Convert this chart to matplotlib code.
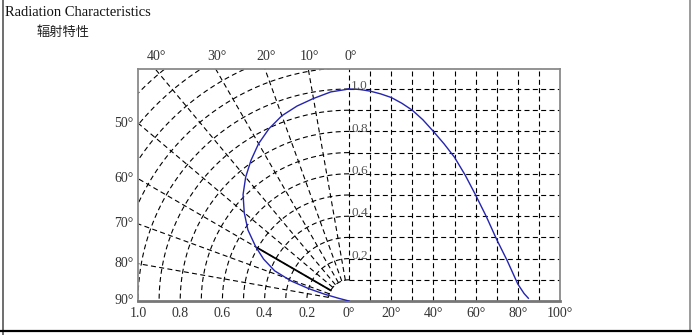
import numpy as np
from matplotlib import pyplot as plt
from matplotlib.lines import Line2D

# polar half (left): angle in degrees, relative intensity
polar_angle = [0, 5, 10, 15, 20, 25, 30, 35, 40, 45, 50, 55, 60, 64, 68, 71, 73, 74.5, 75.5, 76]
polar_r = [1.0, 0.99, 0.97, 0.952, 0.93, 0.897, 0.857, 0.81, 0.762, 0.71, 0.648, 0.585,
           0.51, 0.45, 0.38, 0.29, 0.2, 0.12, 0.05, 0.0]

# cartesian half (right): angle in degrees, relative intensity
cart_angle = [0, 5, 10, 15, 20, 25, 30, 35, 40, 45, 50, 55, 60, 65, 70, 75, 80, 83, 85]
cart_value = [1.0, 0.998, 0.99, 0.977, 0.96, 0.933, 0.90, 0.855, 0.80, 0.742, 0.678, 0.595,
              0.50, 0.40, 0.29, 0.19, 0.08, 0.035, 0.013]

half_angle = 60  # 50% intensity angle

bottom_ticks = [-1.0, -0.8, -0.6, -0.4, -0.2, 0.0, 0.2, 0.4, 0.6, 0.8, 1.0]
bottom_labels = ['1.0', '0.8', '0.6', '0.4', '0.2', '0°', '20°', '40°', '60°', '80°', '100°']
top_angles = [40, 30, 20, 10, 0]
left_angles = [50, 60, 70, 80, 90]
right_labels = [0.2, 0.4, 0.6, 0.8, 1.0]

serif = ['Liberation Serif', 'DejaVu Serif']
W, H = 692, 335
fig = plt.figure(figsize=(W / 100, H / 100), dpi=100)

y_top = 232 / 212.0
ax = fig.add_axes([138 / W, (H - 301) / H, 422 / W, 232 / H])
ax.set_xlim(-1, 1)
ax.set_ylim(0, y_top)

grid_kw = dict(color='black', lw=0.8, linestyle=(0, (4.5, 3)), zorder=1)

# polar grid: arcs every 0.1
th = np.radians(np.linspace(0, 90, 300))
for r in np.arange(0.1, 1.45, 0.1):
    ax.plot(-r * np.sin(th), r * np.cos(th), **grid_kw)
# radial lines every 10 degrees, starting at r = 0.1
for a in range(0, 90, 10):
    t = np.radians(a)
    ax.plot([-0.1 * np.sin(t), -2 * np.sin(t)], [0.1 * np.cos(t), 2 * np.cos(t)], **grid_kw)

# cartesian grid on the right
for v in np.arange(0.1, 1.05, 0.1):
    ax.plot([0, 1], [v, v], **grid_kw)
for a in range(10, 100, 10):
    ax.plot([a / 100, a / 100], [0, y_top], **grid_kw)

# half-intensity line
t = np.radians(half_angle)
ax.plot([-0.1 * np.sin(t), -0.5 * np.sin(t)], [0.1 * np.cos(t), 0.5 * np.cos(t)],
        color='black', lw=1.3, zorder=2)

# curves
pa = np.radians(polar_angle)
pr = np.array(polar_r)
ax.plot(-pr * np.sin(pa), pr * np.cos(pa), color='#2424b0', lw=1.0, zorder=3)
ax.plot(np.array(cart_angle) / 100, cart_value, color='#2424b0', lw=1.0, zorder=3)

for s in ax.spines.values():
    s.set_color('#8a8a8a')
    s.set_linewidth(1.3)
ax.spines['bottom'].set_color('#777777')
ax.spines['bottom'].set_linewidth(2)

ax.set_xticks(bottom_ticks)
ax.set_xticklabels(bottom_labels, fontsize=10, family=serif, color='#333333')
ax.tick_params(axis='x', length=0, pad=4.5)
ax.set_yticks([])

txt_kw = dict(fontsize=10, family=serif, color='#333333')
for a in top_angles:
    x = -y_top * np.tan(np.radians(a))
    ax.annotate(f'{a}°', (x, y_top), xytext=(1, 4), textcoords='offset points',
                ha='center', va='bottom', annotation_clip=False, **txt_kw)
for a in left_angles:
    y = 1 / np.tan(np.radians(a)) if a < 90 else 0.0
    ax.annotate(f'{a}°', (-1, y), xytext=(-3, 0), textcoords='offset points',
                ha='right', va='center', annotation_clip=False, **txt_kw)
for v in right_labels:
    ax.annotate(f'{v:.1f}', (0, v), xytext=(1.5, 2), textcoords='offset points',
                ha='left', va='center', fontsize=9.5, family=serif, color='#555555')

fig.text(5 / W, 1 - 12 / H, 'Radiation Characteristics', fontsize=10.5, family=serif,
         va='center', ha='left', color='#111111')
fig.text(37 / W, 1 - 32 / H, '辐射特性', fontsize=9.5, family=['Noto Sans CJK SC', 'DejaVu Sans'],
         va='center', ha='left', color='#222222')

# outer frame
fig.add_artist(Line2D([2.5 / W, 2.5 / W], [0, 1], color='#555555', lw=1.2))
fig.add_artist(Line2D([690 / W, 690 / W], [4 / H, 1], color='#8a8a8a', lw=1.2))
fig.add_artist(Line2D([0, 1], [4 / H, 4 / H], color='black', lw=1.6))

fig.savefig('out.png', dpi=100)
